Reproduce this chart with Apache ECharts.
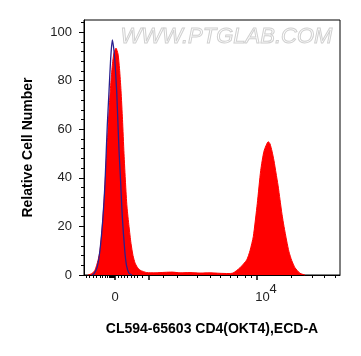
<!DOCTYPE html>
<html>
<head>
<meta charset="utf-8">
<script src="https://cdn.jsdelivr.net/npm/echarts@6/dist/echarts.min.js"></script>
<style>
  html, body { margin: 0; padding: 0; background: #fff; }
  #main { width: 361px; height: 356px; }
</style>
</head>
<body>
<div id="main"></div>
<script>
// x is in display channels (0..256) of the logicle axis, y is relative cell count

// stained sample (red filled)
var sampleX = [4, 8, 11, 14, 16, 17.7, 20, 22, 24, 25.5, 27, 28.5, 30, 32, 34, 35.5, 37, 38.5, 40, 41.5,
    43, 45, 47, 49, 51, 53, 56, 62.7, 71, 81, 88, 96, 106, 116, 126, 136, 144, 149,
    156, 162.7, 166, 169.3, 173.3, 176.7, 180, 184.3, 186, 188, 190, 192, 194, 196, 198,
    200, 202.7, 205, 207.7, 211, 216, 221];
var sampleY = [0, 0.6, 2, 6, 10, 17, 30, 44.6, 60, 71, 80, 87, 91.5, 93.4, 91, 85, 76, 64, 50, 38,
    28, 20, 13, 8, 5, 3.4, 2, 1, 0.9, 1.1, 1.2, 0.9, 1, 0.8, 0.9, 0.7, 0.6, 0.8,
    3, 6.2, 10, 15.8, 29.5, 43, 51, 54.9, 54, 51, 47, 42, 37, 31, 25,
    20, 14, 9.5, 6, 3, 0.7, 0];

// isotype control (blue line)
var controlX = [8, 10, 13, 16, 19, 21, 22.3, 23.3, 25, 26.7, 28.3, 29.5, 30.7, 32.7, 34, 35,
    36.7, 38.3, 40.7, 42.5, 45, 48];
var controlY = [0, 0.5, 3, 10.3, 24, 37.8, 51.5, 61.8, 75.5, 89.3, 96.8, 94, 89.3, 75.5, 61.8, 51.5,
    37.8, 24, 10.3, 4, 0.7, 0];

// axis ticks and labels
var xMajorTicks = [31, 64.5, 173];
var xMinorTicks = [2, 5, 9, 12, 16, 18, 21, 23, 25, 26, 27, 28, 29, 30, 34, 37, 40, 43, 47, 50, 53, 58,
    79, 93, 113, 126, 136, 146, 153, 161, 167.5, 207, 228, 240, 251];
var xLabelValues = [31, 173];
var xLabelTexts = ['{a|0}', '{b|10}{s|4}'];
var yMajorTicks = [0, 20, 40, 60, 80, 100];
var yMinorTicks = [4, 8, 12, 16, 24, 28, 32, 36, 44, 48, 52, 56, 64, 68, 72, 76, 84, 88, 92, 96, 104];

function pairs(xs, ys) {
    var res = [];
    for (var i = 0; i < xs.length; i++) {
        res.push([xs[i], ys[i]]);
    }
    return res;
}

var chart = echarts.init(document.getElementById('main'));
var font = 'Liberation Sans, Arial, sans-serif';

var option = {
    backgroundColor: '#fff',
    animation: false,
    grid: {
        left: 84, right: 21, top: 20, bottom: 81,
        show: true, borderColor: '#000', borderWidth: 1,
        outerBoundsMode: 'none'
    },
    xAxis: [
        {
            type: 'value', min: 0, max: 256,
            name: 'CL594-65603 CD4(OKT4),ECD-A',
            nameLocation: 'middle', nameGap: 47,
            nameTextStyle: { fontFamily: font, fontSize: 14, fontWeight: 'bold', color: '#000' },
            axisLine: { show: true, lineStyle: { color: '#000', width: 1 } },
            axisTick: { show: true, inside: false, length: 5, customValues: xMajorTicks,
                lineStyle: { color: '#000', width: 1.5 } },
            axisLabel: {
                show: true, margin: 8, customValues: xLabelValues,
                formatter: function (v) {
                    var i = xLabelValues.indexOf(v);
                    return i >= 0 ? xLabelTexts[i] : '';
                },
                rich: {
                    a: { fontFamily: font, fontSize: 13, color: '#222', lineHeight: 28 },
                    b: { fontFamily: font, fontSize: 13, color: '#222', lineHeight: 28, padding: [0, 0, 0, 18] },
                    s: { fontFamily: font, fontSize: 13, color: '#222', lineHeight: 13, verticalAlign: 'top' }
                }
            },
            splitLine: { show: false }
        },
        {
            type: 'value', min: 0, max: 256, position: 'bottom',
            axisLine: { show: false },
            axisTick: { show: true, inside: false, length: 3, customValues: xMinorTicks,
                lineStyle: { color: '#000', width: 1 } },
            axisLabel: { show: false, customValues: xMinorTicks },
            splitLine: { show: false }
        }
    ],
    yAxis: [
        {
            type: 'value', min: 0, max: 105,
            name: 'Relative Cell Number',
            nameLocation: 'middle', nameGap: 49, nameRotate: 90,
            nameTextStyle: { fontFamily: font, fontSize: 14, fontWeight: 'bold', color: '#000' },
            axisLine: { show: true, lineStyle: { color: '#000', width: 1 } },
            axisTick: { show: true, inside: false, length: 5, customValues: yMajorTicks,
                lineStyle: { color: '#000', width: 1 } },
            axisLabel: { show: true, margin: 12, customValues: yMajorTicks,
                fontFamily: font, fontSize: 13, color: '#222' },
            splitLine: { show: false }
        },
        {
            type: 'value', min: 0, max: 105, position: 'left',
            axisLine: { show: false },
            axisTick: { show: true, inside: false, length: 3, customValues: yMinorTicks,
                lineStyle: { color: '#000', width: 1 } },
            axisLabel: { show: false, customValues: yMinorTicks },
            splitLine: { show: false }
        }
    ],
    graphic: [
        {
            type: 'text', left: 120, top: 25, z: 0, silent: true,
            style: {
                text: 'WWW.PTGLAB.COM',
                fontFamily: font, fontSize: 22, fontStyle: 'italic',
                fill: 'rgba(255,255,255,0)', stroke: '#d0d0d0', lineWidth: 1
            }
        }
    ],
    series: [
        {
            name: 'sample', type: 'line', xAxisIndex: 0, yAxisIndex: 0,
            data: pairs(sampleX, sampleY),
            smooth: 0.2, showSymbol: false, z: 2,
            lineStyle: { color: '#ff0000', width: 1 },
            areaStyle: { color: '#ff0000', opacity: 1 }
        },
        {
            name: 'control', type: 'line', xAxisIndex: 0, yAxisIndex: 0,
            data: pairs(controlX, controlY),
            smooth: 0.2, showSymbol: false, z: 3,
            lineStyle: { color: '#2a1f8f', width: 1.3 }
        }
    ]
};

chart.setOption(option);
</script>
</body>
</html>
